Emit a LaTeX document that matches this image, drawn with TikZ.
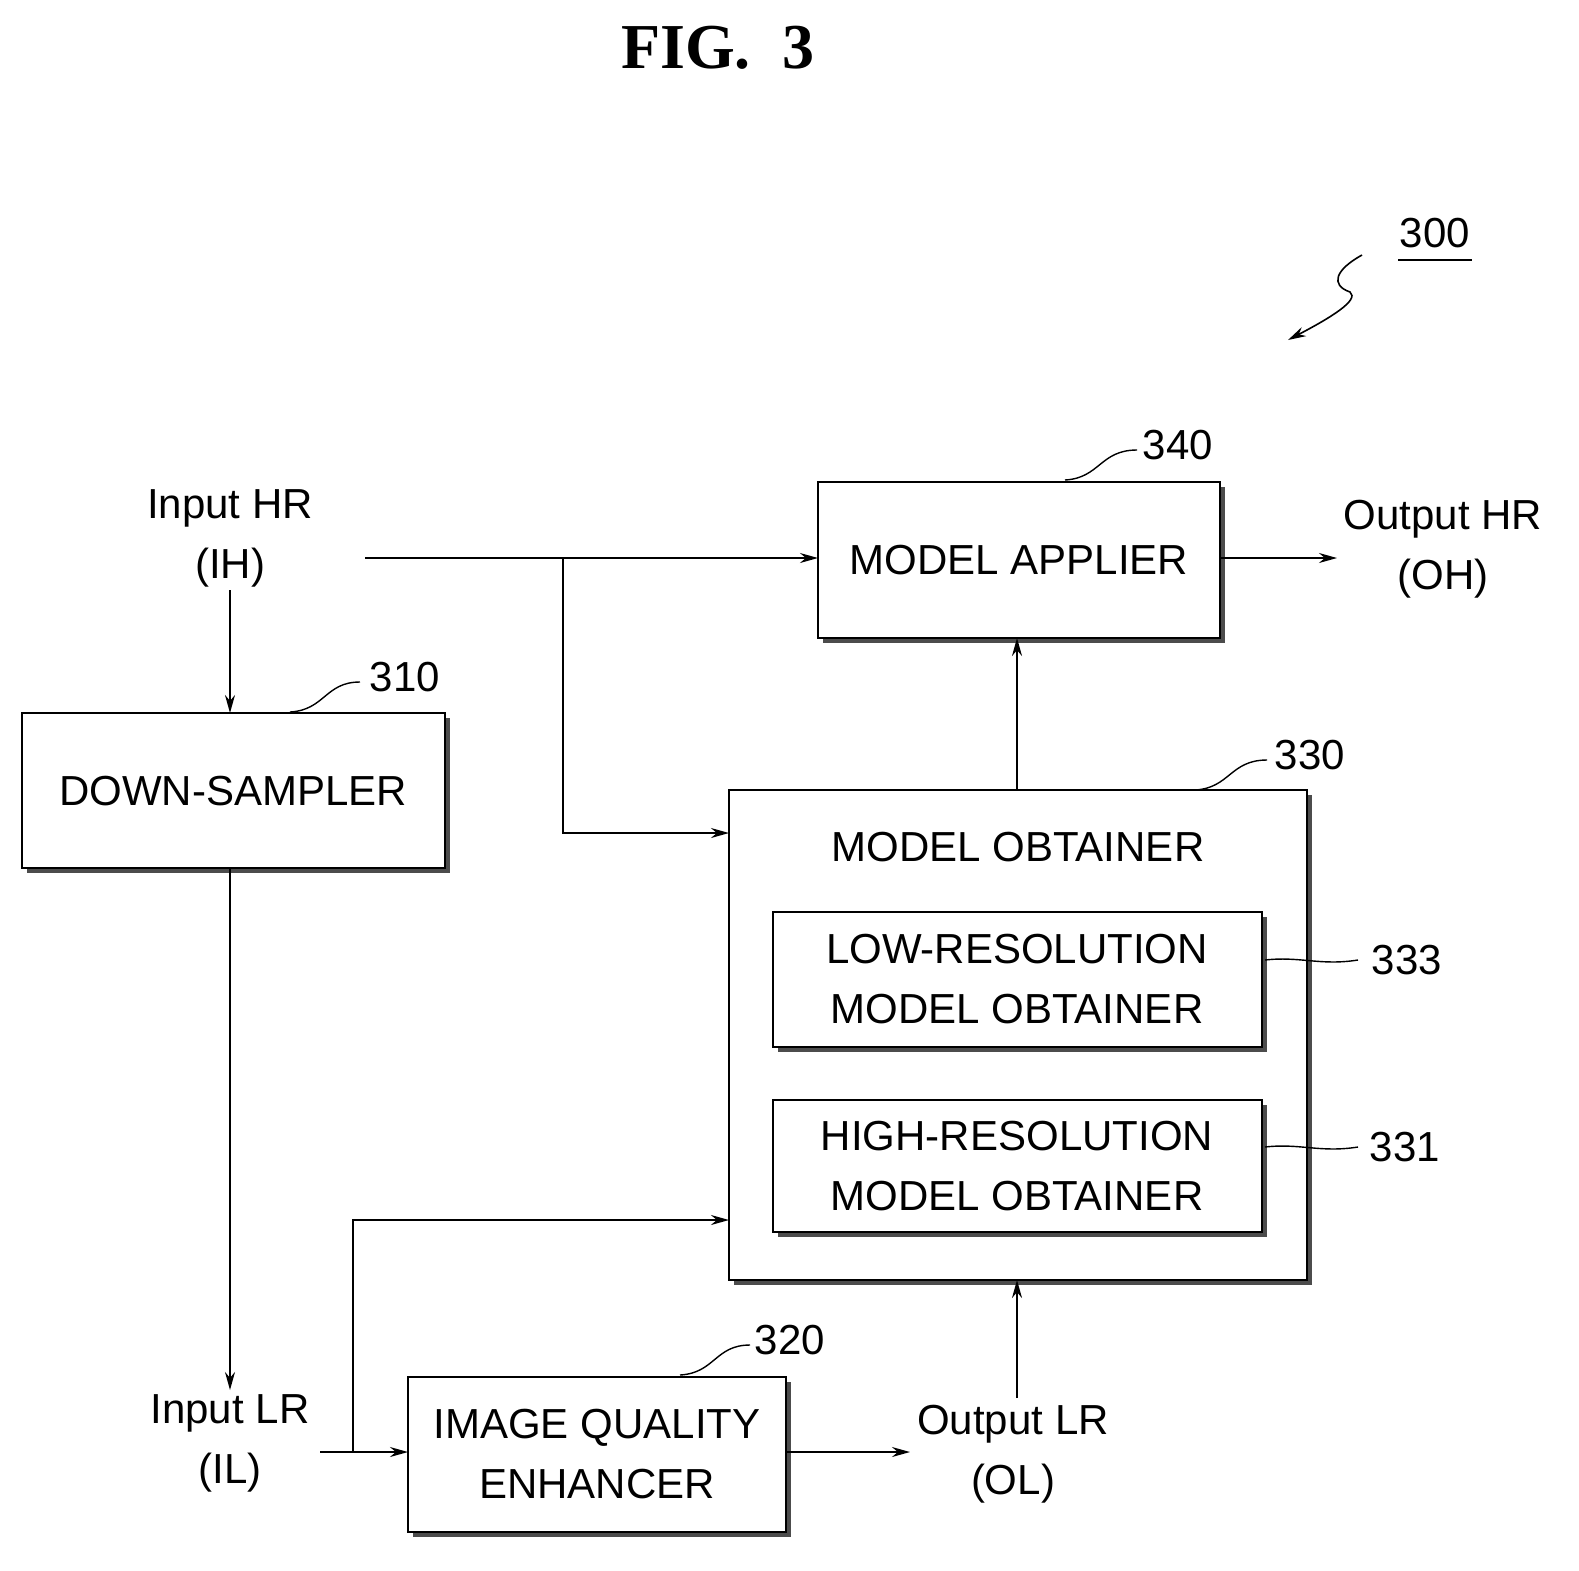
\documentclass[tikz,border=0pt]{standalone}
\usepackage{fontspec}
\setmainfont{Liberation Sans}
\newfontfamily\titlefont{Liberation Serif}
\usetikzlibrary{arrows.meta,shadows}
\begin{document}
\begin{tikzpicture}[x=0.5pt,y=-0.5pt,
  blk/.style={draw,line width=1.2pt,fill=white,drop shadow={shadow xshift=2.5pt,shadow yshift=-2.5pt,fill=black!70,opacity=1}},
  txt/.style={font=\fontsize{21}{30}\selectfont,align=center,inner sep=0},
  arr/.style={-{Stealth[length=9pt,width=5pt]},line width=0.9pt},
  lead/.style={line width=0.7pt}]
\useasboundingbox (0,0) rectangle (1579,1570);
\node[font=\titlefont\bfseries\fontsize{32}{36}\selectfont] (title) at (718,48) {FIG.\ \ 3};
% boxes
\draw[blk] (818,482) rectangle (1220,638); \node[txt] (ma) at (1019,560) {MODEL APPLIER};
\draw[blk] (22,713) rectangle (445,868); \node[txt] (ds) at (233,791) {DOWN-SAMPLER};
\draw[blk] (729,790) rectangle (1307,1280); \node[txt] (mo) at (1018,847) {MODEL OBTAINER};
\draw[blk] (773,912) rectangle (1262,1047); \node[txt] (lr) at (1017,979) {LOW-RESOLUTION\\MODEL OBTAINER};
\draw[blk] (773,1100) rectangle (1262,1232); \node[txt] (hr) at (1017,1166) {HIGH-RESOLUTION\\MODEL OBTAINER};
\draw[blk] (408,1377) rectangle (786,1532); \node[txt] (iq) at (597,1454) {IMAGE QUALITY\\ENHANCER};
% io labels
\node[txt] (ih) at (230,538) {Input HR\\(IH)};
\node[txt] (oh) at (1443,549) {Output HR\\(OH)};
\node[txt] (il) at (230,1443) {Input LR\\(IL)};
\node[txt] (ol) at (1013,1454) {Output LR\\(OL)};
% coordinates
\coordinate (a0) at (365,558); \coordinate (a1) at (818,558); \coordinate (b0) at (563,558); \coordinate (b1) at (563,833); \coordinate (b2) at (729,833);
\coordinate (c0) at (230,590); \coordinate (c1) at (230,713);
\coordinate (d0) at (230,868); \coordinate (d1) at (230,1390);
\coordinate (e0) at (320,1452); \coordinate (e1) at (408,1452); \coordinate (f0) at (353,1452); \coordinate (f1) at (353,1220); \coordinate (f2) at (729,1220);
\coordinate (g0) at (786,1452); \coordinate (g1) at (910,1452);
\coordinate (h0) at (1017,1398); \coordinate (h1) at (1017,1280);
\coordinate (i0) at (1017,790); \coordinate (i1) at (1017,638);
\coordinate (j0) at (1220,558); \coordinate (j1) at (1337,558);
\draw[arr] (a0) -- (a1);
\draw[arr] (b0) -- (b1) -- (b2);
\draw[arr] (c0) -- (c1);
\draw[arr] (d0) -- (d1);
\draw[arr] (e0) -- (e1);
\draw[arr] (f0) -- (f1) -- (f2);
\draw[arr] (g0) -- (g1);
\draw[arr] (h0) -- (h1);
\draw[arr] (i0) -- (i1);
\draw[arr] (j0) -- (j1);
% reference numerals
\node[txt] (n340) at (1178,445) {340};
\draw[lead] (1065,480) .. controls (1100,478) and (1100,450) .. (1137,450);
\node[txt] (n310) at (405,677) {310};
\draw[lead] (290,712) .. controls (325,710) and (325,682) .. (360,682);
\node[txt] (n330) at (1310,755) {330};
\draw[lead] (1195,790) .. controls (1230,788) and (1230,760) .. (1267,760);
\node[txt] (n333) at (1407,960) {333};
\draw[lead] (1265,960) .. controls (1300,956) and (1320,966) .. (1358,960);
\node[txt] (n331) at (1405,1147) {331};
\draw[lead] (1265,1147) .. controls (1300,1143) and (1320,1153) .. (1358,1147);
\node[txt] (n320) at (790,1340) {320};
\draw[lead] (680,1375) .. controls (715,1373) and (715,1345) .. (750,1345);
\node[txt] (n300) at (1435,233) {300};
\draw[lead] (1398,260) -- (1472,260);
\draw[arr,line width=0.8pt] (1362,255) .. controls (1335,270) and (1330,285) .. (1350,292) .. controls (1360,300) and (1330,318) .. (1288,340);
\end{tikzpicture}
\end{document}
